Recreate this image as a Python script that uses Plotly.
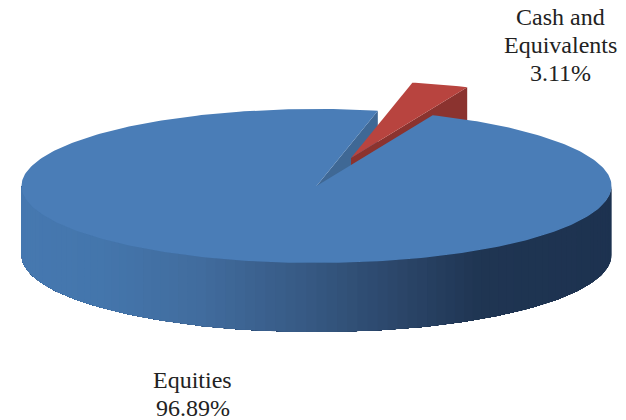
import numpy as np
import plotly.graph_objects as go

categories = ["Cash and<br>Equivalents", "Equities"]
shares = [3.11, 96.89]

# drawing geometry
W, H = 626, 420
CX, CY, RX, RY = 316.5, 186.0, 295.0, 77.0
DEPTH = 69.0
START_DEG = 12.0
EXPLODE = (34.5, -28.0)
TOP_BLUE = "#4a7db7"
WALL_BLUE = "#3f6895"
TOP_RED = "#b8443f"
WALL_RED = "#8b332f"
SHADE_X = [21, 100, 200, 300, 400, 480, 612]
SHADE_RGB = [(70, 120, 176), (68, 118, 172), (65, 108, 158), (55, 90, 133),
             (43, 70, 105), (31, 53, 82), (29, 50, 80)]


def rim(deg):
    t = np.radians(deg)
    return CX + RX * np.sin(t), CY - RY * np.cos(t)


def poly(x, y, color, name):
    return go.Scatter(x=list(x), y=list(y), mode="lines", fill="toself", fillcolor=color,
                      line=dict(color=color, width=0), hoverinfo="skip", showlegend=False, name=name)


span = [s / sum(shares) * 360 for s in shares]
a0 = START_DEG
a1 = a0 + span[0]
a2 = a1 + span[1]

fig = go.Figure()

# side wall of the large slice, front half: overlapping shaded bands, painted right to left
edges = np.arange(90, 270, 2.0)
for lo in edges:
    ts = np.linspace(lo, 270, max(3, int(270 - lo) + 1))
    xs, ys = rim(ts)
    mid = float(rim(lo + 1)[0])
    rgb = [np.interp(mid, SHADE_X, [c[i] for c in SHADE_RGB]) for i in range(3)]
    col = "rgb(%d,%d,%d)" % tuple(int(round(v)) for v in rgb)
    fig.add_trace(poly(np.r_[xs, xs[::-1]], np.r_[ys, ys[::-1] + DEPTH], col, "wall"))

# cut face of the large slice, seen through the gap
ex, ey = rim(a2)
ex, ey = float(ex), float(ey)
fig.add_trace(poly([CX, ex, ex, CX], [CY, ey, ey + DEPTH, CY + DEPTH], WALL_BLUE, "cut"))

# exploded small slice: cut face, then top
dx, dy = EXPLODE
rx_, ry_ = rim(a1)
rx_, ry_ = float(rx_) + dx, float(ry_) + dy
px, py = CX + dx, CY + dy
fig.add_trace(poly([px, rx_, rx_, px], [py, ry_, ry_ + DEPTH, py + DEPTH], WALL_RED, categories[0]))
ts = np.linspace(a0, a1, 20)
xs, ys = rim(ts)
fig.add_trace(poly(np.r_[px, xs + dx, px], np.r_[py, ys + dy, py], TOP_RED, categories[0]))

# top of the large slice
ts = np.linspace(a1, a2, 360)
xs, ys = rim(ts)
fig.add_trace(poly(np.r_[CX, xs, CX], np.r_[CY, ys, CY], TOP_BLUE, categories[1]))

# labels
label_pos = [(560.5, 17.0), (192.5, 380.0)]
LINE = 28.0
for cat, val, (lx, ly) in zip(categories, shares, label_pos):
    for i, line in enumerate(cat.split("<br>") + ["%.2f%%" % val]):
        fig.add_annotation(x=lx, y=ly + i * LINE, text=line, showarrow=False, xanchor="center", yanchor="middle",
                           font=dict(family="Liberation Serif", size=24, color="#222222"))

fig.update_xaxes(range=[0, W], visible=False, fixedrange=True)
fig.update_yaxes(range=[H, 0], visible=False, fixedrange=True)
fig.update_layout(width=W, height=H, margin=dict(l=0, r=0, t=0, b=0), paper_bgcolor="white",
                  plot_bgcolor="white", showlegend=False)
fig.write_html("out.html", config={"displayModeBar": False},
               post_script="document.body.style.margin='0';document.body.style.overflow='hidden';")
